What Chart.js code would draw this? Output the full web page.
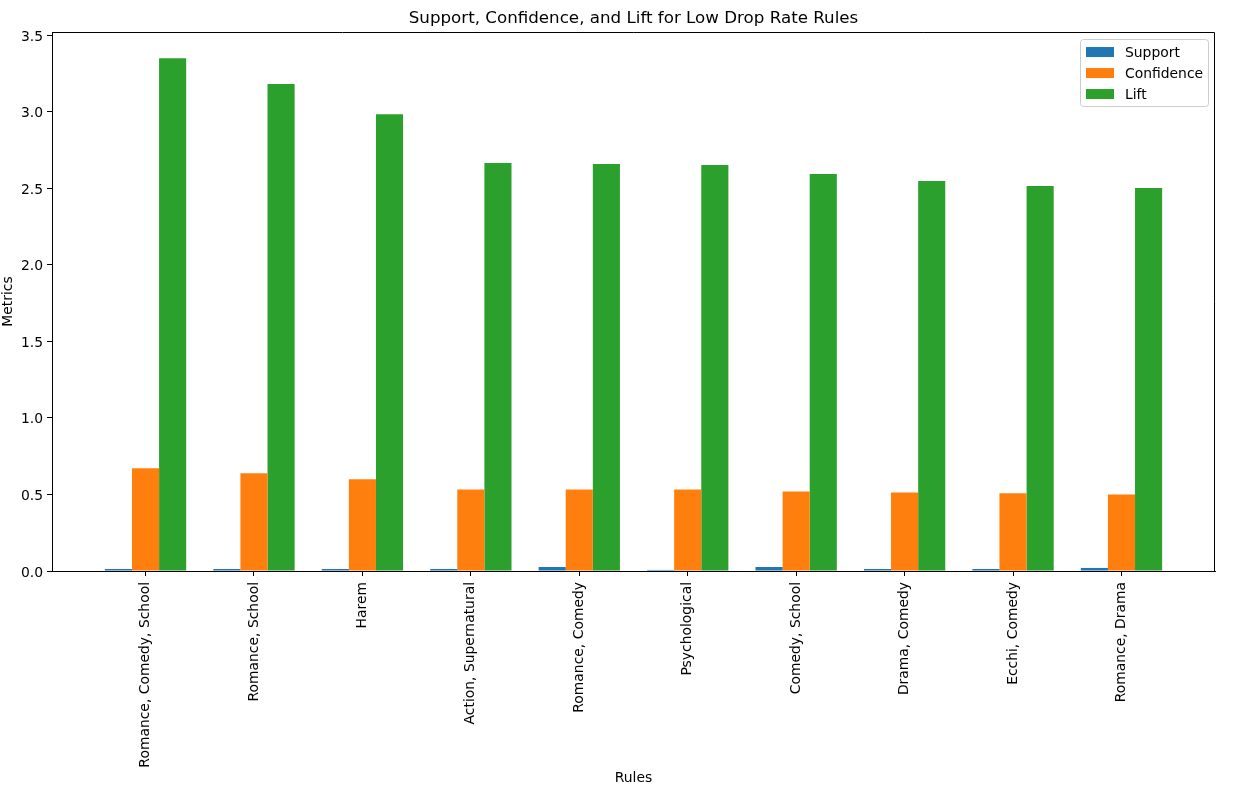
<!DOCTYPE html>
<html>
<head>
<meta charset="utf-8">
<script src="https://cdn.jsdelivr.net/npm/chart.js@4/dist/chart.umd.min.js"></script>
<style>
html,body{margin:0;padding:0;background:#fff;}
#wrap{width:1252px;height:806px;position:relative;}
</style>
</head>
<body>
<div id="wrap"><canvas id="c"></canvas></div>
<script>
const categories = ["Romance, Comedy, School","Romance, School","Harem","Action, Supernatural","Romance, Comedy","Psychological","Comedy, School","Drama, Comedy","Ecchi, Comedy","Romance, Drama"];
const support = [0.013,0.013,0.013,0.013,0.026,0.007,0.026,0.013,0.013,0.020];
const confidence = [0.671,0.638,0.599,0.533,0.533,0.533,0.520,0.513,0.507,0.500];
const lift = [3.349,3.181,2.983,2.665,2.658,2.652,2.593,2.547,2.515,2.502];
const yTicks = [0,0.5,1.0,1.5,2.0,2.5,3.0,3.5];
const seriesNames = ["Support","Confidence","Lift"];
const seriesColors = ["#1f77b4","#ff7f0e","#2ca02c"];

const FONT = "'DejaVu Sans', sans-serif";
const toPts = arr => arr.map((v,i)=>({x:i,y:v}));

const frame = {
  id:'frame',
  afterDraw(chart){
    const a = chart.chartArea, ctx = chart.ctx;
    ctx.save();
    ctx.strokeStyle = '#000'; ctx.lineWidth = 1;
    const t = Math.round(a.top)+0.5, r = Math.round(a.right)-0.5;
    ctx.beginPath();
    ctx.moveTo(a.left, t); ctx.lineTo(r, t); ctx.lineTo(r, a.bottom);
    ctx.stroke();
    ctx.restore();
  }
};
const legendBox = {
  id:'legendBox',
  afterDraw(chart){
    const a = chart.chartArea, ctx = chart.ctx;
    const w = 128, h = 67;
    const x = a.right - 7 - w, y = a.top + 7;
    ctx.save();
    ctx.fillStyle = 'rgba(255,255,255,0.8)';
    ctx.strokeStyle = '#cccccc'; ctx.lineWidth = 1;
    ctx.beginPath();
    ctx.roundRect(x+0.5, y+0.5, w, h, 3);
    ctx.fill(); ctx.stroke();
    ctx.font = '13.9px ' + FONT;
    ctx.textBaseline = 'middle';
    ctx.textAlign = 'left';
    chart.data.datasets.forEach((ds,i)=>{
      const cy = y + 13 + i*21;
      ctx.fillStyle = ds.backgroundColor;
      ctx.fillRect(x + 6, cy - 5, 28, 10);
      ctx.fillStyle = '#000';
      ctx.fillText(ds.label, x + 45, cy + 1);
    });
    ctx.restore();
  }
};

new Chart(document.getElementById('c'), {
  type:'bar',
  data:{
    datasets:[
      {label:seriesNames[0], data:toPts(support), backgroundColor:seriesColors[0]},
      {label:seriesNames[1], data:toPts(confidence), backgroundColor:seriesColors[1]},
      {label:seriesNames[2], data:toPts(lift), backgroundColor:seriesColors[2]}
    ]
  },
  options:{
    responsive:true,
    maintainAspectRatio:false,
    animation:false,
    devicePixelRatio:1,
    categoryPercentage:0.75,
    barPercentage:1.0,
    layout:{padding:{left:0,right:37,top:0,bottom:0}},
    plugins:{
      legend:{display:false},
      tooltip:{enabled:false},
      title:{
        display:true,
        fullSize:false,
        text:'Support, Confidence, and Lift for Low Drop Rate Rules',
        color:'#000',
        font:{family:FONT,size:16.7,weight:'normal'},
        padding:{top:9,bottom:3}
      }
    },
    scales:{
      x:{
        type:'linear',
        offset:false,
        min:-0.8625,
        max:9.8625,
        afterBuildTicks(scale){ scale.ticks = categories.map((_,i)=>({value:i})); },
        afterFit(scale){ scale.height = 235; },
        grid:{display:true,drawOnChartArea:false,drawTicks:true,tickLength:5,color:'#000',offset:false},
        border:{display:true,color:'#000'},
        ticks:{
          autoSkip:false,
          minRotation:90,maxRotation:90,
          padding:6,
          color:'#000',
          font:{family:FONT,size:13.9},
          callback:(v)=>categories[v]
        },
        title:{display:true,text:'Rules',color:'#000',font:{family:FONT,size:13.9},padding:{top:4,bottom:19}}
      },
      y:{
        min:0,
        max:3.52,
        afterBuildTicks(scale){ scale.ticks = yTicks.map(v=>({value:v})); },
        afterFit(scale){ scale.width = 52; },
        grid:{display:true,drawOnChartArea:false,drawTicks:true,tickLength:5,color:'#000'},
        border:{display:true,color:'#000'},
        ticks:{
          padding:4,
          labelOffset:2,
          color:'#000',
          font:{family:FONT,size:13.9},
          callback:(v)=>Number(v).toFixed(1)
        },
        title:{display:true,text:'Metrics',color:'#000',font:{family:FONT,size:13.9},padding:{top:0,bottom:0}}
      }
    }
  },
  plugins:[frame,legendBox]
});
</script>
</body>
</html>
